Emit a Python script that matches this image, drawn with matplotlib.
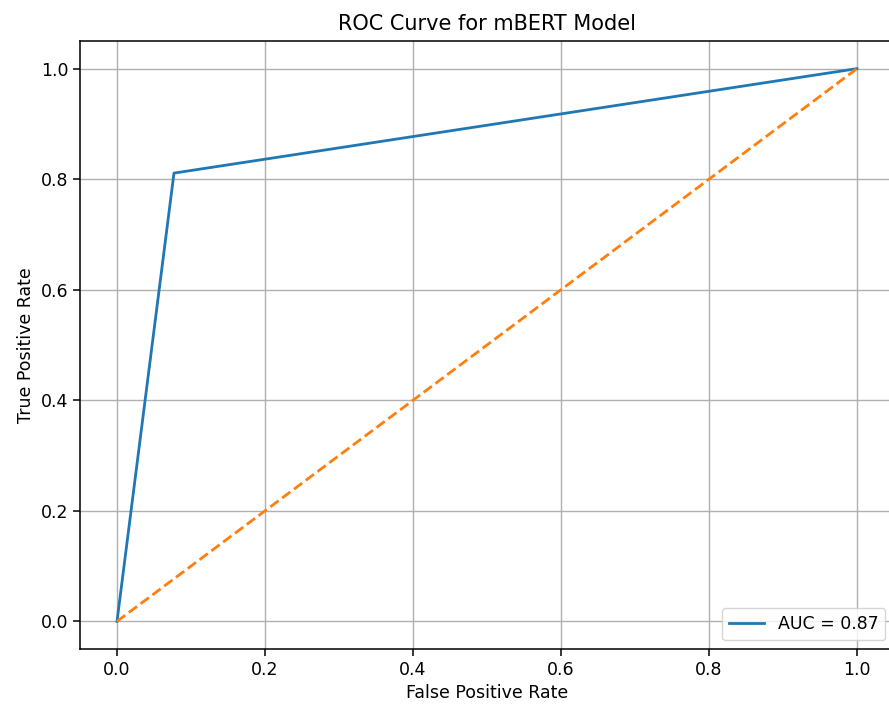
import matplotlib
matplotlib.use("Agg")
import matplotlib.pyplot as plt

fpr = [0.0, 0.077, 1.0]
tpr = [0.0, 0.811, 1.0]
diag = [0.0, 1.0]
auc_label = "AUC = 0.87"

fig = plt.figure(figsize=(8.89, 7.09), dpi=100)
ax = fig.add_axes([80 / 889, 60 / 709, 814 / 889, 608 / 709])

ax.plot(fpr, tpr, color="#1f77b4", lw=2.0, label=auc_label)
ax.plot(diag, diag, color="#ff7f0e", lw=2.0, linestyle="--")

ax.set_xlim(-0.05, 1.05)
ax.set_ylim(-0.05, 1.05)
ax.set_xticks([0.0, 0.2, 0.4, 0.6, 0.8, 1.0])
ax.set_yticks([0.0, 0.2, 0.4, 0.6, 0.8, 1.0])
ax.tick_params(labelsize=12.5, length=5, width=1.1)
for s in ax.spines.values():
    s.set_linewidth(1.1)
ax.grid(True, color="#b0b0b0", lw=1.0)

ax.set_xlabel("False Positive Rate", fontsize=12.5)
ax.set_ylabel("True Positive Rate", fontsize=12.5)
ax.set_title("ROC Curve for mBERT Model", fontsize=15, pad=8)
ax.legend(loc="lower right", fontsize=12.5)

fig.savefig("out.png", dpi=100)
